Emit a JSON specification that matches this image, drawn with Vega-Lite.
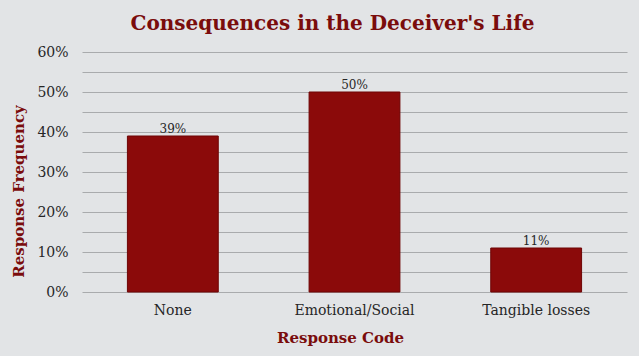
{
  "$schema": "https://vega.github.io/schema/vega-lite/v6.json",
  "width": 545,
  "height": 240,
  "autosize": {"type": "none"},
  "padding": {"left": 82, "top": 52, "right": 12, "bottom": 64},
  "background": "#e2e4e6",
  "config": {"view": {"stroke": null}, "font": "DejaVu Serif"},
  "title": {
    "text": "Consequences in the Deceiver's Life",
    "font": "DejaVu Serif",
    "fontSize": 20,
    "fontWeight": "bold",
    "color": "#7a0c0c",
    "anchor": "middle",
    "dx": -22,
    "offset": 11
  },
  "data": {
    "values": [
      {"code": "None", "freq": 0.39},
      {"code": "Emotional/Social", "freq": 0.50},
      {"code": "Tangible losses", "freq": 0.11}
    ]
  },
  "encoding": {
    "x": {
      "field": "code",
      "type": "nominal",
      "sort": null,
      "scale": {"paddingInner": 0.5, "paddingOuter": 0.25},
      "axis": {
        "title": "Response Code",
        "titleFont": "DejaVu Serif",
        "titleFontSize": 15,
        "titleFontWeight": "bold",
        "titleColor": "#7a0c0c",
        "titleX": 258,
        "titleY": 38,
        "labelAngle": 0,
        "labelFont": "DejaVu Serif",
        "labelFontSize": 14,
        "labelColor": "#262626",
        "labelPadding": 11,
        "ticks": false,
        "domain": false
      }
    },
    "y": {
      "field": "freq",
      "type": "quantitative",
      "scale": {"domain": [0, 0.6]},
      "axis": {
        "title": "Response Frequency",
        "titleFont": "DejaVu Serif",
        "titleFontSize": 15,
        "titleFontWeight": "bold",
        "titleColor": "#7a0c0c",
        "titleX": -56,
        "titleY": 139,
        "values": [0, 0.05, 0.1, 0.15, 0.2, 0.25, 0.3, 0.35, 0.4, 0.45, 0.5, 0.55, 0.6],
        "labelExpr": "round(datum.value * 100) % 10 == 0 ? format(datum.value, '.0%') : ''",
        "labelFont": "DejaVu Serif",
        "labelFontSize": 14,
        "labelColor": "#262626",
        "labelPadding": 14,
        "ticks": false,
        "domain": false,
        "grid": true,
        "gridColor": "#a9abad",
        "gridWidth": 1
      }
    }
  },
  "layer": [
    {
      "mark": {"type": "bar", "color": "#8b0a0a", "stroke": "#6e0505", "strokeWidth": 1}
    },
    {
      "mark": {"type": "text", "dy": -7, "font": "DejaVu Serif", "fontSize": 12, "color": "#262626"},
      "encoding": {"text": {"field": "freq", "type": "quantitative", "format": ".0%"}}
    }
  ]
}
